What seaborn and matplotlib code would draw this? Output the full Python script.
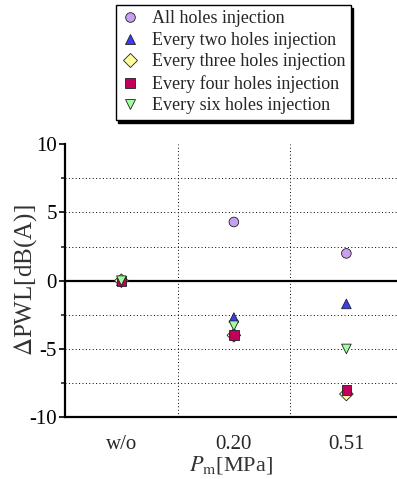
import matplotlib
matplotlib.use("Agg")
import matplotlib.pyplot as plt
import seaborn as sns
import pandas as pd

categories = ["w/o", "0.20", "0.51"]
all_holes = [0.0, 4.3, 2.0]
every_two = [0.0, -2.7, -1.7]
every_three = [0.0, -4.0, -8.3]
every_four = [0.0, -4.0, -8.0]
every_six = [0.0, -3.3, -5.0]

series_names = ["All holes injection", "Every two holes injection",
                "Every three holes injection", "Every four holes injection",
                "Every six holes injection"]
series_values = [all_holes, every_two, every_three, every_four, every_six]
colors = ["#C8A0F0", "#3C3CF0", "#FFFFA0", "#C0005A", "#A0FFA0"]
markers = ["o", "^", "D", "s", "v"]

sns.set_theme(style="white")
plt.rcParams["font.family"] = ["Liberation Serif", "DejaVu Serif"]
plt.rcParams["mathtext.fontset"] = "stix"
plt.rcParams["axes.unicode_minus"] = False

rows = []
for name, vals in zip(series_names, series_values):
    for c, v in zip(categories, vals):
        rows.append({"P": c, "dPWL": v, "series": name})
df = pd.DataFrame(rows)

fig = plt.figure(figsize=(3.97, 4.79), dpi=100)
ax = fig.add_axes([0.164, 0.129, 0.836, 0.570])

sns.scatterplot(data=df, x="P", y="dPWL", hue="series", style="series",
                hue_order=series_names, style_order=series_names,
                palette=dict(zip(series_names, colors)),
                markers=dict(zip(series_names, markers)),
                s=48, edgecolor="#202020", linewidth=0.6, ax=ax, zorder=5,
                legend=True)

ax.set_xlim(-0.5, 2.45)
ax.set_ylim(-10, 10)
ax.set_yticks([-10, -5, 0, 5, 10])
ax.set_yticks([-7.5, -2.5, 2.5, 7.5], minor=True)
ax.set_xticks([0, 1, 2])
ax.set_xticklabels(categories)

for y in [-7.5, -5, -2.5, 2.5, 5, 7.5]:
    ax.axhline(y, color="black", linestyle=(0, (1, 2.5)), linewidth=0.7, zorder=1)
for x in [0.5, 1.5]:
    ax.axvline(x, color="black", linestyle=(0, (1, 2.5)), linewidth=0.7, zorder=1)
ax.axhline(0, color="black", linewidth=1.6, zorder=2)

for s in ["top", "right"]:
    ax.spines[s].set_visible(False)
for s in ["left", "bottom"]:
    ax.spines[s].set_linewidth(1.6)
    ax.spines[s].set_color("black")

ax.tick_params(axis="y", which="major", direction="out", length=4, width=1.2,
               labelsize=15, left=True, colors="black", pad=2)
ax.tick_params(axis="y", which="minor", direction="out", length=3, width=1.2, left=True)
ax.tick_params(axis="x", which="major", length=0, labelsize=15, pad=13)

ax.set_ylabel(r"$\mathit{\Delta}$PWL[dB(A)]", fontsize=18, color="#333333")
ax.yaxis.set_label_coords(-0.08, 0.5)
ax.set_xlabel(r"$P_{\mathrm{m}}$[MPa]", fontsize=16, color="#333333", labelpad=0)

handles, labels = ax.get_legend_handles_labels()
ax.get_legend().remove()
for h in handles:
    try:
        h.set_edgecolor("#202020")
    except Exception:
        pass
leg = fig.legend(handles, labels, loc="upper center", bbox_to_anchor=(0.587, 0.997),
                 frameon=True, fancybox=False, edgecolor="black", fontsize=13,
                 labelspacing=0.25, handletextpad=0.7, borderpad=0.3,
                 handlelength=1.0, markerscale=1.0, borderaxespad=0.2,
                 shadow={"color": "black", "alpha": 1.0})
leg.get_frame().set_linewidth(1.0)

fig.savefig("out.png", dpi=100)
